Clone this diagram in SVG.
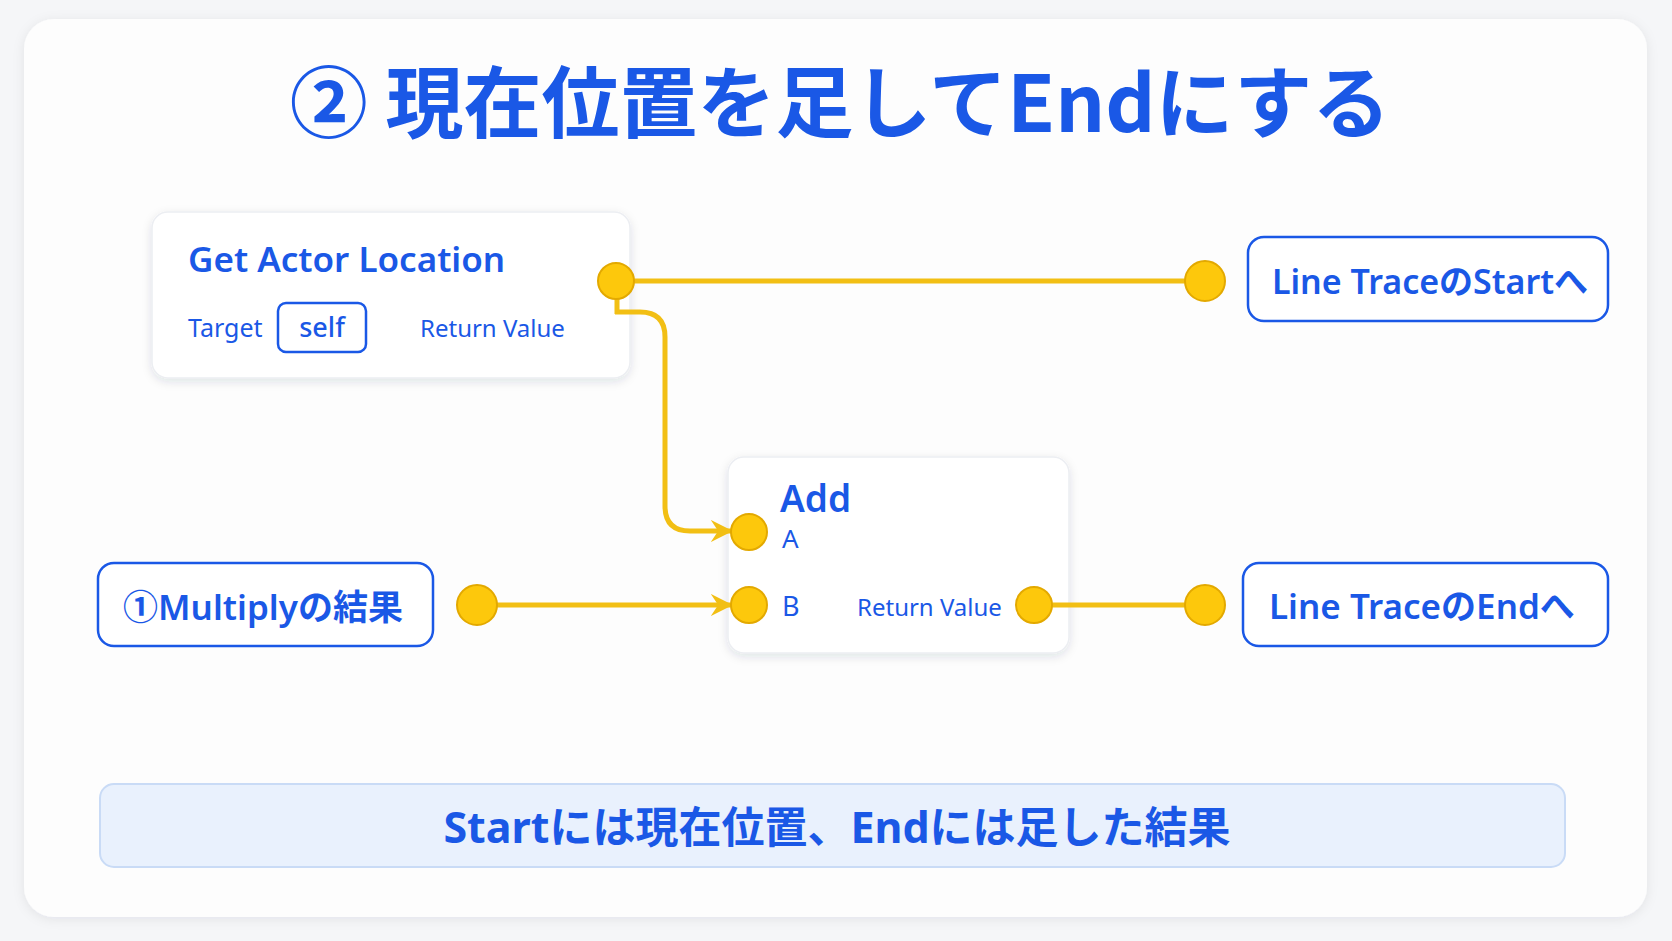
<svg xmlns="http://www.w3.org/2000/svg" width="1672" height="941" viewBox="0 0 1672 941">
<defs>
<filter id="sh" x="-10%" y="-10%" width="120%" height="130%"><feDropShadow dx="0" dy="3" stdDeviation="5" flood-color="#1b2a4a" flood-opacity="0.12"/></filter>
<filter id="shc" x="-5%" y="-5%" width="110%" height="110%"><feDropShadow dx="0" dy="2" stdDeviation="6" flood-color="#1b2a4a" flood-opacity="0.08"/></filter>
<marker id="arr" viewBox="0 0 12 12" refX="11" refY="6" markerWidth="22" markerHeight="22" orient="auto" markerUnits="userSpaceOnUse"><path d="M0,0 L12,6 L0,12 L4,6 z" fill="#f2bf14"/></marker>
<style>
.t{font-family:"Noto Sans","Noto Sans CJK JP",sans-serif;fill:#1a58e6}
.node{fill:#ffffff;stroke:#eceef2;stroke-width:1.5}
.lbl{fill:#ffffff;stroke:#1a58e6;stroke-width:2.5}
.pin{fill:#fdc80c;stroke:#e3a900;stroke-width:2}
.wire{fill:none;stroke:#f2bf14;stroke-width:5}
</style>
</defs>
<rect width="1672" height="941" fill="#f5f6f8"/>
<rect x="24" y="19" width="1623" height="898" rx="30" fill="#fdfdfd" filter="url(#shc)"/>
<text class="t" x="840" y="132" text-anchor="middle" font-size="78" font-weight="700" style="font-family:'Noto Sans CJK JP',sans-serif">② 現在位置を足してEndにする</text>

<g id="get-actor-location">
<rect class="node" x="152" y="212" width="478" height="166" rx="16" filter="url(#sh)"/>
<text class="t" x="188" y="272" font-size="35" font-weight="600">Get Actor Location</text>
<text class="t" x="188" y="337" font-size="25">Target</text>
<rect class="lbl" x="278" y="303" width="88" height="49" rx="8"/>
<text class="t" x="322" y="337" font-size="27" font-weight="500" text-anchor="middle">self</text>
<text class="t" x="420" y="337" font-size="24">Return Value</text>
</g>

<g id="add">
<rect class="node" x="728" y="457" width="341" height="196" rx="16" filter="url(#sh)"/>
<text class="t" x="780" y="512" font-size="37" font-weight="600">Add</text>
<text class="t" x="782" y="548" font-size="26">A</text>
<text class="t" x="782" y="616" font-size="27">B</text>
<text class="t" x="857" y="616" font-size="24">Return Value</text>
</g>

<g id="line-trace-start">
<rect class="lbl" x="1248" y="237" width="360" height="84" rx="16"/>
<text class="t" x="1430" y="294" font-size="34" font-weight="600" text-anchor="middle">Line TraceのStartへ</text>
</g>

<g id="multiply-result">
<rect class="lbl" x="98" y="563" width="335" height="83" rx="16"/>
<text class="t" x="263" y="620" font-size="35" font-weight="600" text-anchor="middle">①Multiplyの結果</text>
</g>

<g id="line-trace-end">
<rect class="lbl" x="1243" y="563" width="365" height="83" rx="16"/>
<text class="t" x="1269" y="619" font-size="35" font-weight="600">Line TraceのEndへ</text>
</g>

<g id="summary">
<rect x="100" y="784" width="1465" height="83" rx="14" fill="#e9f1fd" stroke="#c9dbf6" stroke-width="2"/>
<text class="t" x="837" y="843" font-size="43" font-weight="700" text-anchor="middle">Startには現在位置、Endには足した結果</text>
</g>

<g id="connectors">
<line class="wire" x1="630" y1="281" x2="1190" y2="281"/>
<path class="wire" d="M617,296 V314 M615,312 H640 Q665,312 665,337 V506 Q665,531 690,531 H731" marker-end="url(#arr)"/>
<line class="wire" x1="492" y1="605" x2="731" y2="605" marker-end="url(#arr)"/>
<line class="wire" x1="1048" y1="605" x2="1190" y2="605"/>
</g>

<g id="pins">
<circle class="pin" cx="616" cy="281" r="18"/>
<circle class="pin" cx="749" cy="532" r="18"/>
<circle class="pin" cx="749" cy="605" r="18"/>
<circle class="pin" cx="1034" cy="605" r="18"/>
<circle class="pin" cx="1205" cy="281" r="20"/>
<circle class="pin" cx="477" cy="605" r="20"/>
<circle class="pin" cx="1205" cy="605" r="20"/>
</g>
</svg>
